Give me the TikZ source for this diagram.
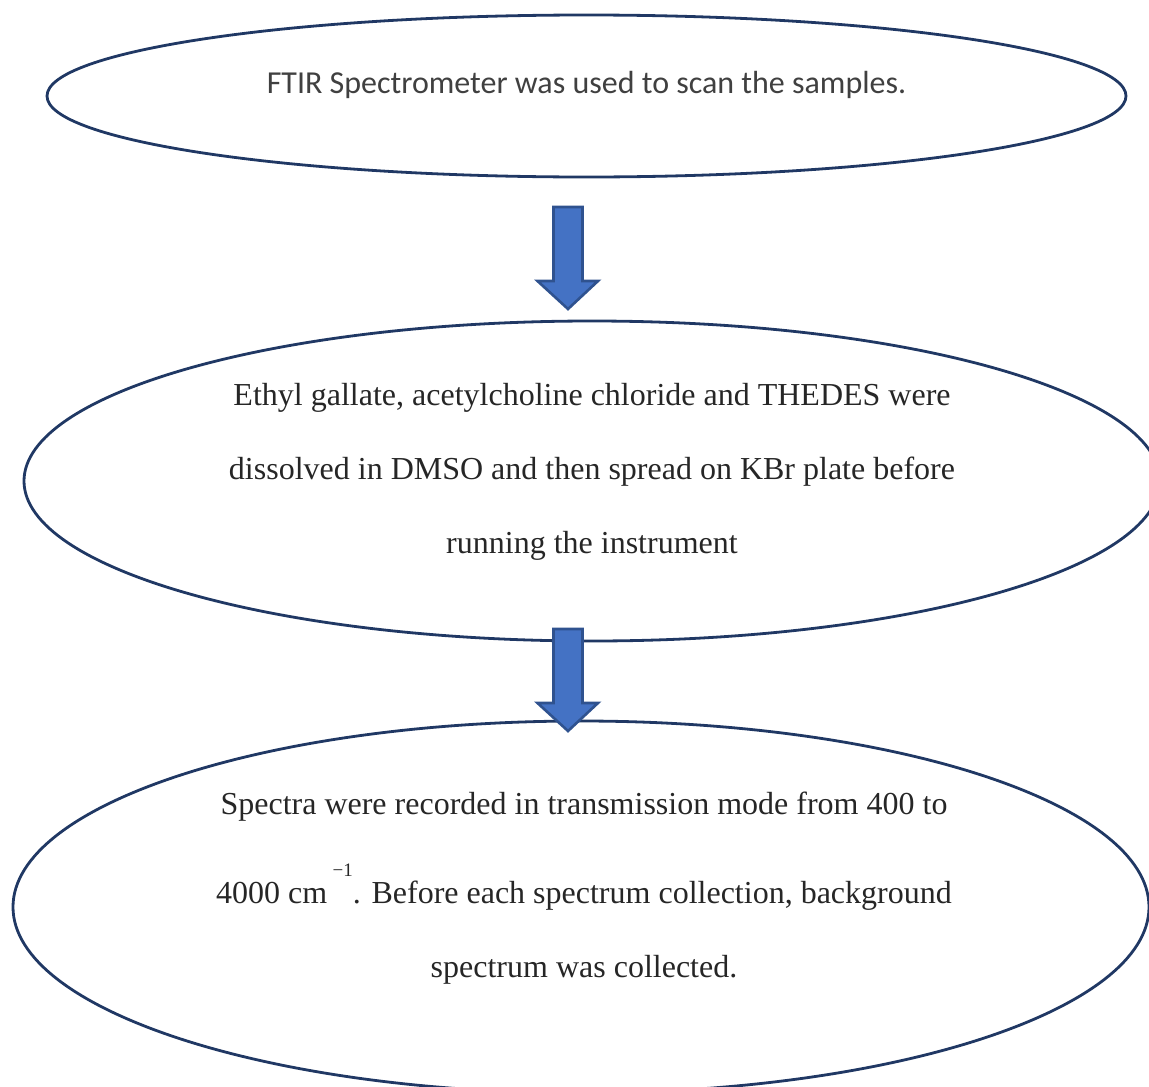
\documentclass[tikz,border=0pt]{standalone}
\usepackage{fontspec}
\setmainfont{Liberation Serif}
\newfontfamily\bodysans{Carlito}
\usetikzlibrary{shapes.geometric}
\definecolor{ringblue}{HTML}{203864}
\definecolor{arrowfill}{HTML}{4472C4}
\definecolor{arrowedge}{HTML}{2F528F}
\definecolor{inkgray}{HTML}{404040}
\definecolor{inkdark}{HTML}{262626}
\tikzset{
  stage/.style={ellipse, draw=ringblue, line width=2.8pt, inner sep=0pt},
  flowarrow/.style={fill=arrowfill, draw=arrowedge, line width=2.6pt, line join=miter},
  serifline/.style={text=inkdark, font=\fontsize{32}{32}\selectfont, inner sep=0pt, anchor=base},
}
\begin{document}
\begin{tikzpicture}[x=1pt,y=-1pt]
\useasboundingbox (0,0) rectangle (1149,1087);
\clip (0,0) rectangle (1149,1087);

% the three stages
\node[stage, minimum width=1079pt, minimum height=162pt] (scan) at (586.5,96) {};
\node[stage, minimum width=1136pt, minimum height=320pt] (prep) at (592,481) {};
\node[stage, minimum width=1136pt, minimum height=372pt] (record) at (581,907) {};

% texts
\node[text=inkgray, font=\bodysans\fontsize{32}{32}\selectfont, inner sep=0pt, anchor=base] (scantext) at (586.5,93) {FTIR Spectrometer was used to scan the samples.};

\node[serifline] (prep1) at (592,405) {Ethyl gallate, acetylcholine chloride and THEDES were};
\node[serifline] (prep2) at (592,479) {dissolved in DMSO and then spread on KBr plate before};
\node[serifline] (prep3) at (592,553) {running the instrument};

\node[serifline] (rec1) at (584,814) {Spectra were recorded in transmission mode from 400 to};
\node[serifline] (rec2) at (584,903) {4000 cm\,\raisebox{27pt}{\fontsize{19}{19}\selectfont −1}. Before each spectrum collection, background};
\node[serifline] (rec3) at (584,977) {spectrum was collected.};

% block arrows between stages
\coordinate (a1) at (568,207);
\draw[flowarrow] (a1) ++(-14.5,0) -- ++(29,0) -- ++(0,74) -- ++(15.5,0) -- (568,309) -- (537.5,281) -- ++(16,0) -- cycle;
\coordinate (a2) at (568,629);
\draw[flowarrow] (a2) ++(-14.5,0) -- ++(29,0) -- ++(0,74) -- ++(15.5,0) -- (568,731) -- (537.5,703) -- ++(16,0) -- cycle;
\end{tikzpicture}
\end{document}
